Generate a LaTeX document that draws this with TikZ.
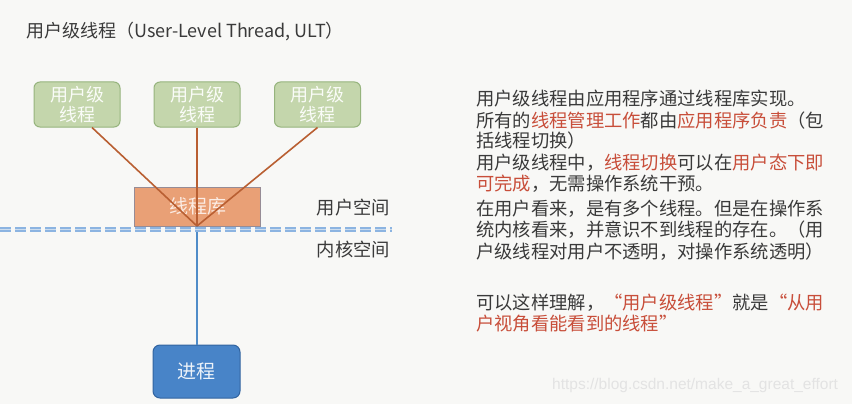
\documentclass[tikz,border=0pt]{standalone}
\usepackage{fontspec}
\newfontfamily\cjk{Noto Sans CJK SC}
\newfontfamily\wmfont{Liberation Sans}
\definecolor{bgcol}{RGB}{248,248,246}
\definecolor{txtgray}{RGB}{58,58,58}
\definecolor{hired}{RGB}{200,78,58}
\definecolor{ultfill}{RGB}{196,214,172}
\definecolor{ultdraw}{RGB}{150,180,125}
\definecolor{libfill}{RGB}{233,160,118}
\definecolor{libdraw}{RGB}{150,140,150}
\definecolor{libline}{RGB}{185,95,50}
\definecolor{procfill}{RGB}{72,132,200}
\definecolor{procdraw}{RGB}{50,100,160}
\definecolor{kline}{RGB}{80,140,200}
\definecolor{dashblue}{RGB}{140,180,225}
\usetikzlibrary{shapes.geometric, arrows.meta}

\begin{document}
\begin{tikzpicture}[x=1pt,y=-1pt,
  ultbox/.style={draw=ultdraw, fill=ultfill, line width=1pt, rounded corners=6pt, minimum width=86pt, minimum height=45pt, inner sep=0pt, align=center, text=white!92!ultfill, font=\cjk\fontsize{18}{20}\selectfont},
  libbox/.style={draw=libdraw, fill=libfill, line width=0.8pt, minimum width=126pt, minimum height=39pt, inner sep=0pt, text=white!80!libfill, font=\cjk\fontsize{19}{21}\selectfont},
  procbox/.style={draw=procdraw, fill=procfill, line width=1pt, rounded corners=7pt, minimum width=87pt, minimum height=53pt, inner sep=0pt, text=white!90!procfill, font=\cjk\fontsize{19}{21}\selectfont},
  spacelbl/.style={text=txtgray, inner sep=0pt, font=\cjk\fontsize{18.3}{20}\selectfont},
  desc/.style={anchor=west, text=txtgray, inner sep=0pt, font=\cjk\fontsize{18.3}{20}\selectfont},
  tolib/.style={draw=libline, line width=1.6pt}]
\useasboundingbox[fill=bgcol] (0,0) rectangle (852,404);
\node[anchor=west, text=txtgray, inner sep=0pt, font=\cjk\fontsize{18}{20}\selectfont] (title) at (26,32) {用户级线程（User-Level Thread, ULT）};
\node[ultbox] (ult1) at (77,104.5) {用户级\\线程};
\node[ultbox] (ult2) at (197,104.5) {用户级\\线程};
\node[ultbox] (ult3) at (317.5,104.5) {用户级\\线程};
\node[libbox] (lib) at (197.5,206.5) {线程库};
\node[procbox] (proc) at (196.5,371.5) {进程};
\coordinate (jn) at (197,226);
\coordinate (dashl) at (0,229.5);
\coordinate (dashr) at (392,229.5);
\draw[kline, line width=1.5pt] (jn) -- (proc.north -| jn);
\draw[dashblue, line width=1.8pt, double=bgcol!60!dashblue, double distance=0.6pt, dash pattern=on 11pt off 4pt] (dashl) -- (dashr);
\draw[tolib] ([xshift=15pt]ult1.south) -- (jn);
\draw[tolib] (ult2.south) -- (jn);
\draw[tolib] (ult3.south) -- (jn);
\node[spacelbl] (uspace) at (353.5,208) {用户空间};
\node[spacelbl] (kspace) at (353.5,250) {内核空间};
\node[desc] (d1) at (476,99) {用户级线程由应用程序通过线程库实现。};
\node[desc] (d2) at (476,121) {所有的\textcolor{hired}{线程管理工作}都由\textcolor{hired}{应用程序负责}（包};
\node[desc] (d3) at (476,141) {括线程切换）};
\node[desc] (d4) at (476,163) {用户级线程中，\textcolor{hired}{线程切换}可以在\textcolor{hired}{用户态下即}};
\node[desc] (d5) at (476,184) {\textcolor{hired}{可完成}，无需操作系统干预。};
\node[desc] (d6) at (476,209) {在用户看来，是有多个线程。但是在操作系};
\node[desc] (d7) at (476,230) {统内核看来，并意识不到线程的存在。（用};
\node[desc] (d8) at (476,252) {户级线程对用户不透明，对操作系统透明）};
\node[desc] (d9) at (476,303) {可以这样理解，\textcolor{hired}{“用户级线程”}就是\textcolor{hired}{“从用}};
\node[desc] (d10) at (476,324) {\textcolor{hired}{户视角看能看到的线程”}};
\node[anchor=west, text=black!11, inner sep=0pt, font=\wmfont\fontsize{15.5}{17}\selectfont] (wm) at (552,385) {https://blog.csdn.net/make\_a\_great\_effort};
\end{tikzpicture}
\end{document}
